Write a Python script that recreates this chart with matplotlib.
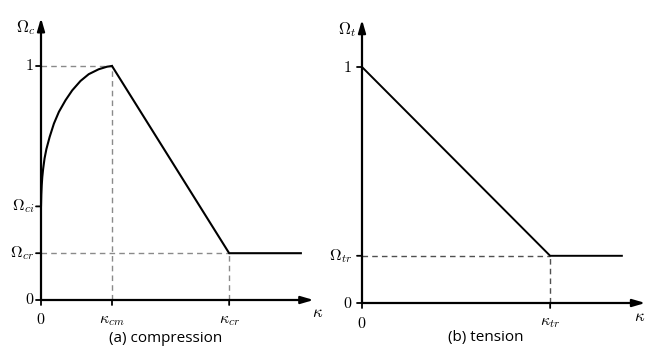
import matplotlib
matplotlib.use("Agg")
import matplotlib.pyplot as plt

plt.rcParams['mathtext.fontset'] = 'cm'

# ---- data ----
kappa_cm = 1.0
kappa_cr = 2.65
kappa_tr = 2.65
kappa_end = 3.66
omega_ci = 0.40
omega_cr = 0.20
omega_tr = 0.20

# hardening branch (compression)
curve_k = [0.0, 0.004, 0.01, 0.018, 0.03, 0.05, 0.076, 0.122, 0.182, 0.252,
           0.346, 0.44, 0.556, 0.672, 0.812, 0.93, 1.0]
curve_w = [0.40, 0.45, 0.49, 0.525, 0.56, 0.605, 0.645, 0.697, 0.754, 0.804,
           0.854, 0.896, 0.936, 0.965, 0.986, 0.997, 1.0]

comp_x_ticks = [0.0, kappa_cm, kappa_cr]
comp_x_labels = ['$0$', r'$\kappa_{cm}$', r'$\kappa_{cr}$']
comp_y_ticks = [0.0, omega_cr, omega_ci, 1.0]
comp_y_labels = ['$0$', r'$\Omega_{cr}$', r'$\Omega_{ci}$', '$1$']

tens_x_ticks = [0.0, kappa_tr]
tens_x_labels = ['$0$', r'$\kappa_{tr}$']
tens_y_ticks = [0.0, omega_tr, 1.0]
tens_y_labels = ['$0$', r'$\Omega_{tr}$', '$1$']

W, H = 657, 364
fig = plt.figure(figsize=(W / 100, H / 100), dpi=100)

PXX = 71.0  # pixels per kappa unit


def make_axes(px_left, px_right, x0_px, y0_px, py_per_unit):
    ax = fig.add_axes([px_left / W, 0, (px_right - px_left) / W, 1])
    ax.set_xlim((px_left - x0_px) / PXX, (px_right - x0_px) / PXX)
    ax.set_ylim((y0_px - H) / py_per_unit, y0_px / py_per_unit)
    ax.axis('off')
    return ax


def draw_frame(ax, x_tip, y_tip, xt, xl, yt, yl, ylab, ylab_off, xlab_off,
               ytl_gap):
    arrow = dict(arrowstyle='-|>,head_length=0.75,head_width=0.22',
                 lw=1.6, color='black', shrinkA=0, shrinkB=0)
    ax.annotate('', xy=(x_tip, 0), xytext=(0, 0), arrowprops=arrow)
    ax.annotate('', xy=(0, y_tip), xytext=(0, 0), arrowprops=arrow)
    # y ticks
    for v, lab in zip(yt, yl):
        ax.annotate('', xy=(0, v), xytext=(-5, 0), textcoords='offset pixels',
                    arrowprops=dict(arrowstyle='-', lw=1.3, color='black',
                                    shrinkA=0, shrinkB=0))
        ax.annotate(lab, xy=(0, v), xytext=(-ytl_gap, 0),
                    textcoords='offset pixels', ha='right', va='center',
                    fontsize=11.5)
    # x ticks
    for v, lab in zip(xt, xl):
        ax.annotate('', xy=(v, 0), xytext=(0, -5), textcoords='offset pixels',
                    arrowprops=dict(arrowstyle='-', lw=1.3, color='black',
                                    shrinkA=0, shrinkB=0))
        ax.annotate(lab, xy=(v, 0), xytext=(0, -20),
                    textcoords='offset pixels', ha='center', va='center',
                    fontsize=11.5)
    ax.annotate(ylab, xy=(0, y_tip), xytext=ylab_off,
                textcoords='offset pixels', ha='center', va='center',
                fontsize=12)
    ax.annotate(r'$\kappa$', xy=(x_tip, 0), xytext=xlab_off,
                textcoords='offset pixels', ha='center', va='center',
                fontsize=12)


# ---------------- (a) compression ----------------
axa = make_axes(0, 330, 41, 300, 234)
dash_a = dict(color='#8a8a8a', lw=1.0, ls=(0, (4, 3)))
axa.plot([0, kappa_cm], [1.0, 1.0], **dash_a)
axa.plot([kappa_cm, kappa_cm], [0, 1.0], **dash_a)
axa.plot([0, kappa_cr], [omega_cr, omega_cr], **dash_a)
axa.plot([kappa_cr, kappa_cr], [0, omega_cr], **dash_a)
axa.plot(curve_k, curve_w, color='black', lw=1.5, solid_capstyle='round',
         solid_joinstyle='round')
axa.plot([kappa_cm, kappa_cr, kappa_end], [1.0, omega_cr, omega_cr],
         color='black', lw=1.5)
draw_frame(axa, 3.84, 1.205, comp_x_ticks, comp_x_labels, comp_y_ticks,
           comp_y_labels, r'$\Omega_c$', (-15, -10), (4, -12), 7)
axa.text(1.76, (300 - 338) / 234, '(a) compression',
         ha='center', va='center', fontsize=11, family='Open Sans')

# ---------------- (b) tension ----------------
axb = make_axes(330, 657, 362, 303, 236)
dash_b = dict(color='#505050', lw=1.0, ls=(0, (4, 3)))
axb.plot([0, kappa_tr], [omega_tr, omega_tr], **dash_b)
axb.plot([kappa_tr, kappa_tr], [0, omega_tr], **dash_b)
axb.plot([0, kappa_tr, kappa_end], [1.0, omega_tr, omega_tr],
         color='black', lw=1.4)
draw_frame(axb, 3.99, 1.20, tens_x_ticks, tens_x_labels, tens_y_ticks,
           tens_y_labels, r'$\Omega_t$', (-15, -10), (-6, -13), 10)
axb.text(1.75, (303 - 338) / 236, '(b) tension',
         ha='center', va='center', fontsize=11, family='Open Sans')

fig.savefig('out.png', dpi=100, facecolor='white')
